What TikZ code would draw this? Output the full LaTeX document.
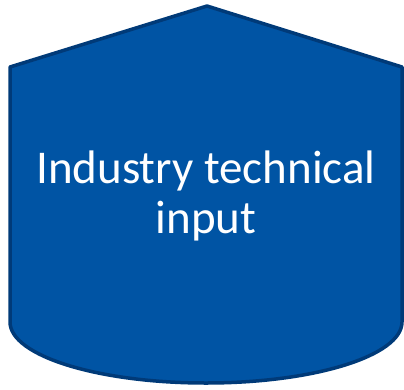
\documentclass[tikz,border=0pt]{standalone}
\usepackage{fontspec}
\setmainfont{Carlito}
\definecolor{shapefill}{RGB}{0,84,164}
\definecolor{shapeline}{RGB}{0,58,120}
\begin{document}
\begin{tikzpicture}[x=1pt,y=-1pt,
  blob/.style={fill=shapefill,draw=shapeline,line width=3.5pt,line join=round},
  label/.style={text=white,font=\fontsize{47}{50}\selectfont,align=center,anchor=base,inner sep=0pt}]
\useasboundingbox (0,0) rectangle (404,389);
\draw[blob] (10,67) -- (207,6) -- (402,67) -- (402,322)
  arc[start angle=0,end angle=180,x radius=196,y radius=61] -- cycle;
\node[label] (t1) at (206,183) {Industry technical};
\node[label] (t2) at (206,233) {input};
\end{tikzpicture}
\end{document}
